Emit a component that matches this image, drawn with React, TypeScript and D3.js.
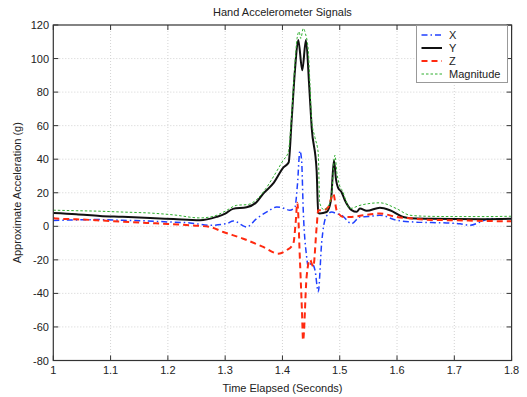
import React from "react";
import * as d3 from "d3";

const xTicks = [1, 1.1, 1.2, 1.3, 1.4, 1.5, 1.6, 1.7, 1.8];
const yTicks = [-80, -60, -40, -20, 0, 20, 40, 60, 80, 100, 120];

const tX = [1.0, 1.04, 1.0757, 1.12, 1.163, 1.2, 1.2386, 1.2735, 1.3026, 1.3141, 1.3375, 1.355, 1.375, 1.39, 1.4, 1.413, 1.4218, 1.4262, 1.4305, 1.4335, 1.4363, 1.4422, 1.445, 1.451, 1.4567, 1.4625, 1.4684, 1.476, 1.4859, 1.495, 1.5033, 1.5208, 1.5353, 1.55, 1.5702, 1.5993, 1.628, 1.66, 1.6866, 1.71, 1.7272, 1.745, 1.7621, 1.78, 1.8];
const vX = [3.5, 3.8, 4, 3.6, 3.2, 2.6, 2, 0.6, 1.6, 3.2, -0.4, 4.6, 9, 11.5, 11, 9.6, 11.5, 25, 45, 39, 9.6, -18, -24, -22, -26, -39, -10, 5.6, 8.5, 7.5, 6.6, 1.6, 5.6, 5.8, 6.6, 3.6, 2.6, 2.2, 2, 1.5, 0.6, 2.5, 4.6, 4.4, 4.6];

const tY = [1.0, 1.04, 1.0815, 1.12, 1.169, 1.21, 1.256, 1.285, 1.3, 1.3136, 1.3375, 1.355, 1.3665, 1.385, 1.4014, 1.4108, 1.416, 1.4218, 1.4276, 1.4346, 1.441, 1.4468, 1.451, 1.4597, 1.4625, 1.465, 1.477, 1.4847, 1.4899, 1.4935, 1.497, 1.503, 1.509, 1.5208, 1.5295, 1.5353, 1.547, 1.5702, 1.5877, 1.6108, 1.634, 1.66, 1.7, 1.75, 1.8];
const vY = [7.9, 7.2, 6.2, 5.7, 5, 4.3, 3.6, 5.6, 7.5, 10.4, 11.3, 14.5, 19.5, 26, 35, 38, 63, 93, 111, 93, 111, 83, 59, 33, 8, 7.7, 8.5, 15.5, 39.4, 28, 23, 20.5, 15.5, 9.6, 8.6, 10.6, 9.2, 11.1, 9.6, 5.6, 4.6, 4.5, 4.3, 4.2, 4.5];

const tZ = [1.0, 1.006, 1.04, 1.0757, 1.12, 1.163, 1.2, 1.2386, 1.2735, 1.2967, 1.3316, 1.3665, 1.393, 1.407, 1.419, 1.423, 1.426, 1.4305, 1.434, 1.436, 1.4422, 1.448, 1.4538, 1.4597, 1.4625, 1.4712, 1.48, 1.4887, 1.4946, 1.506, 1.52, 1.541, 1.5702, 1.5993, 1.628, 1.66, 1.704, 1.75, 1.8];
const vZ = [5, 4.6, 4.2, 3.6, 2.8, 2, 1.4, 0.6, -0.4, -3.4, -7.4, -12.3, -16.3, -14.3, -10.3, 2, 14, -20, -50, -68, -30, -20, -24, -0.4, 9.6, 9.6, 11.5, 19.5, 9.6, 5.6, 5.6, 6.6, 7.6, 5.6, 4.6, 3.8, 3.6, 3.2, 3];

const tM = [1.0, 1.04, 1.08, 1.12, 1.169, 1.21, 1.256, 1.28, 1.3, 1.32, 1.34, 1.355, 1.37, 1.385, 1.4014, 1.41, 1.416, 1.4218, 1.4255, 1.429, 1.432, 1.4363, 1.44, 1.445, 1.448, 1.451, 1.4567, 1.4625, 1.465, 1.472, 1.48, 1.486, 1.4916, 1.495, 1.5, 1.505, 1.51, 1.5178, 1.5353, 1.5702, 1.5993, 1.6225, 1.65, 1.7, 1.75, 1.8];
const vM = [9.6, 9.3, 9, 8.5, 7.9, 6.8, 5, 6, 9, 12.5, 13, 16, 22, 30, 39.4, 44, 66, 97, 112, 116, 112, 118, 115, 105, 85, 63, 53, 43.5, 14, 10, 12, 20, 42.4, 32, 24, 21, 16, 10.6, 12.5, 14, 10.5, 6.6, 6, 5.8, 5.8, 6];

const seriesNames = ["X", "Y", "Z", "Magnitude"];

const W = 527;
const H = 397;
const left = 53.3;
const right = 511.6;
const top = 25;
const bottom = 360.5;

const styles: Record<string, { color: string; width: number; dash: string | undefined }> = {
  X: { color: "#2040ff", width: 1.5, dash: "6,3,1.5,3" },
  Y: { color: "#111111", width: 2, dash: undefined },
  Z: { color: "#ff2a10", width: 2, dash: "6,4" },
  Magnitude: { color: "#2eae2e", width: 1, dash: "2.5,2" },
};

export default function App() {
  const x = d3.scaleLinear().domain([1, 1.8]).range([left, right]);
  const y = d3.scaleLinear().domain([-80, 120]).range([bottom, top]);
  const line = d3
    .line<[number, number]>()
    .x((d) => x(d[0]))
    .y((d) => y(d[1]))
    .curve(d3.curveMonotoneX);

  const data: Record<string, [number, number][]> = {
    X: tX.map((t, i) => [t, vX[i]]),
    Y: tY.map((t, i) => [t, vY[i]]),
    Z: tZ.map((t, i) => [t, vZ[i]]),
    Magnitude: tM.map((t, i) => [t, vM[i]]),
  };

  const font = "'Liberation Sans', Arial, Helvetica, sans-serif";
  const tickLen = 5;
  const legX = 416.5;
  const legY = 25.5;
  const legW = 91;
  const legH = 57;

  return (
    <svg width={W} height={H} style={{ position: "absolute", left: 0, top: 0, background: "#fff" }} fontFamily={font}>
      <defs>
        <clipPath id="plotclip">
          <rect x={left} y={top} width={right - left} height={bottom - top} />
        </clipPath>
      </defs>
      <rect x={0} y={0} width={W} height={H} fill="#fff" />
      {xTicks.slice(1, -1).map((t) => (
        <line key={"gx" + t} x1={x(t)} x2={x(t)} y1={top} y2={bottom} stroke="#c8c8c8" strokeWidth={0.8} strokeDasharray="1,2" />
      ))}
      {yTicks.slice(1, -1).map((t) => (
        <line key={"gy" + t} x1={left} x2={right} y1={y(t)} y2={y(t)} stroke="#c8c8c8" strokeWidth={0.8} strokeDasharray="1,2" />
      ))}
      <g clipPath="url(#plotclip)">
        {seriesNames.map((n) => (
          <path
            key={n}
            d={line(data[n]) || ""}
            fill="none"
            stroke={styles[n].color}
            strokeWidth={styles[n].width}
            strokeDasharray={styles[n].dash}
            strokeLinejoin="round"
          />
        ))}
      </g>
      {xTicks.map((t) => (
        <g key={"tx" + t}>
          <line x1={x(t)} x2={x(t)} y1={bottom} y2={bottom - tickLen} stroke="#333" strokeWidth={1} />
          <line x1={x(t)} x2={x(t)} y1={top} y2={top + tickLen} stroke="#333" strokeWidth={1} />
          <text x={x(t)} y={374} fontSize={11} textAnchor="middle" fill="#222">
            {d3.format("")(t)}
          </text>
        </g>
      ))}
      {yTicks.map((t) => (
        <g key={"ty" + t}>
          <line x1={left} x2={left + tickLen} y1={y(t)} y2={y(t)} stroke="#333" strokeWidth={1} />
          <line x1={right} x2={right - tickLen} y1={y(t)} y2={y(t)} stroke="#333" strokeWidth={1} />
          <text x={49} y={y(t) + 4} fontSize={11} textAnchor="end" fill="#222">
            {String(t)}
          </text>
        </g>
      ))}
      <rect x={left} y={top} width={right - left} height={bottom - top} fill="none" stroke="#333" strokeWidth={1.2} />
      <text x={(left + right) / 2} y={16} fontSize={11} textAnchor="middle" fill="#222">
        Hand Accelerometer Signals
      </text>
      <text x={(left + right) / 2} y={392} fontSize={11} textAnchor="middle" fill="#222">
        Time Elapsed (Seconds)
      </text>
      <text transform={`translate(21,${(top + bottom) / 2}) rotate(-90)`} fontSize={11} textAnchor="middle" fill="#222">
        Approximate Acceleration (g)
      </text>
      <rect x={legX} y={legY} width={legW} height={legH} fill="#fff" stroke="#999" strokeWidth={1} />
      {seriesNames.map((n, i) => {
        const ly = 35 + i * 13;
        return (
          <g key={"lg" + n}>
            <line x1={421.5} x2={442} y1={ly} y2={ly} stroke={styles[n].color} strokeWidth={styles[n].width} strokeDasharray={styles[n].dash} />
            <text x={449} y={ly + 4} fontSize={11} fill="#222">
              {n}
            </text>
          </g>
        );
      })}
    </svg>
  );
}
